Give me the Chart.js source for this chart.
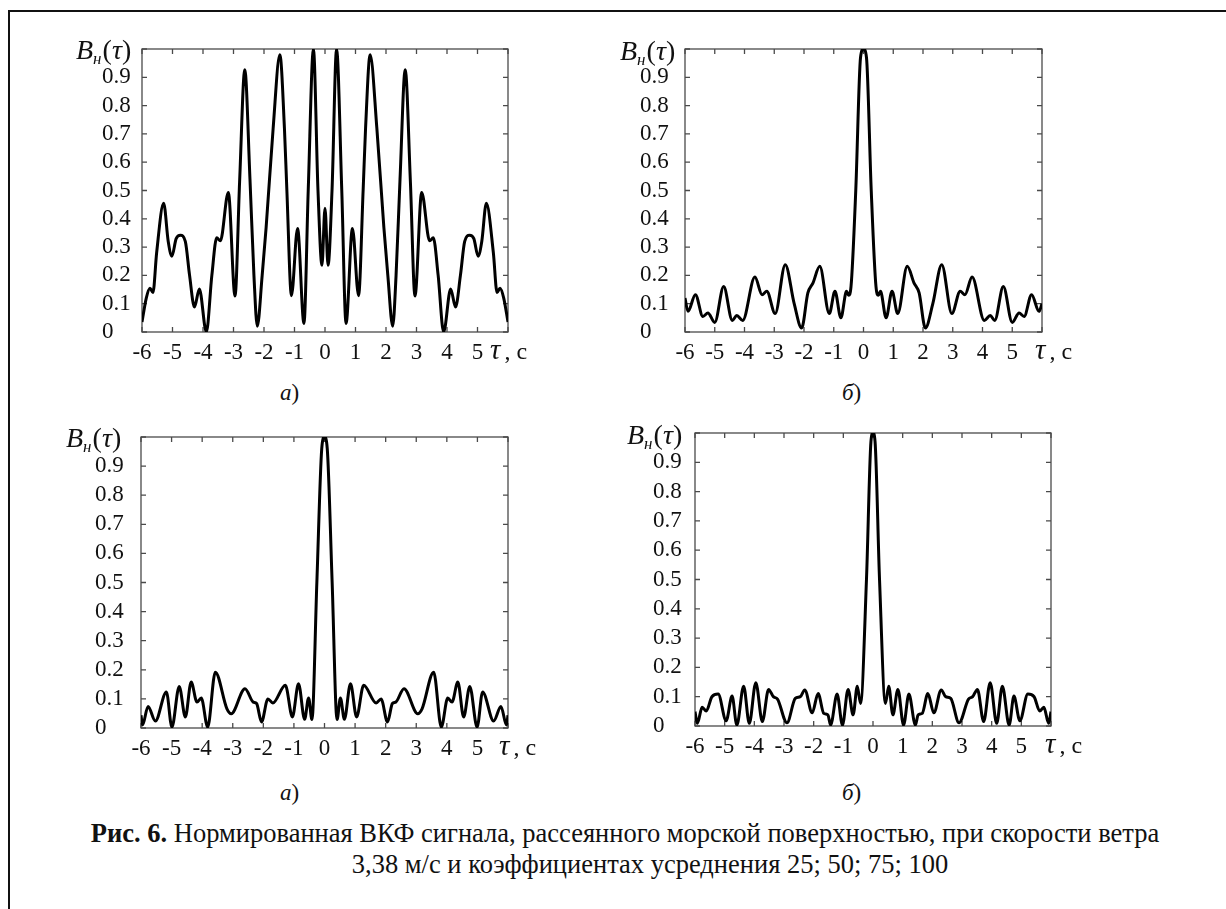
<!DOCTYPE html>
<html lang="ru">
<head>
<meta charset="utf-8">
<title>Рис. 6</title>
<script src="https://cdn.jsdelivr.net/npm/chart.js@4.4.0/dist/chart.umd.min.js"></script>
<style>
  html, body { margin: 0; padding: 0; background: #fff; }
  body { width: 1226px; height: 909px; position: relative; overflow: hidden;
         font-family: "Liberation Serif", "DejaVu Serif", serif; color: #111; }
  .page { position: absolute; left: 8px; top: 10px; width: 1400px; height: 1100px;
          border-left: 2px solid #111; border-top: 2px solid #111; }
  canvas { position: absolute; }
  .lbl { position: absolute; white-space: nowrap; line-height: 1; }
  .bn { font-size: 28px; }
  .bn sub { font-size: 17px; font-style: italic; vertical-align: -5px; line-height: 0; margin-right: 1px; }
  .ax { font-size: 24px; }
  .ax .t { font-size: 29px; font-style: italic; margin-right: 4px; }
  .sub { font-size: 23px; }
  .cap { font-size: 26.5px; text-align: center; }
</style>
</head>
<body>
<div class="page"></div>

<canvas id="chA" width="430" height="340" style="left:102px; top:30px"></canvas>
<canvas id="chB" width="430" height="340" style="left:640px; top:30px"></canvas>
<canvas id="chC" width="437" height="350" style="left:95px; top:415px"></canvas>
<canvas id="chD" width="425" height="350" style="left:653px; top:411px"></canvas>

<!-- подписи осей -->
<div class="lbl bn" style="left:76px; top:36px"><i>B</i><sub>н</sub>(<i>τ</i>)</div>
<div class="lbl bn" style="left:620px; top:37px"><i>B</i><sub>н</sub>(<i>τ</i>)</div>
<div class="lbl bn" style="left:66px; top:424px"><i>B</i><sub>н</sub>(<i>τ</i>)</div>
<div class="lbl bn" style="left:627px; top:421px"><i>B</i><sub>н</sub>(<i>τ</i>)</div>

<div class="lbl ax" style="left:490px; top:335px"><span class="t">τ</span>, с</div>
<div class="lbl ax" style="left:1035px; top:335px"><span class="t">τ</span>, с</div>
<div class="lbl ax" style="left:499px; top:731px"><span class="t">τ</span>, с</div>
<div class="lbl ax" style="left:1045px; top:729px"><span class="t">τ</span>, с</div>

<div class="lbl sub" style="left:280px; top:381px"><i>а</i>)</div>
<div class="lbl sub" style="left:842px; top:381px"><i>б</i>)</div>
<div class="lbl sub" style="left:280px; top:781px"><i>а</i>)</div>
<div class="lbl sub" style="left:842px; top:781px"><i>б</i>)</div>

<div class="lbl cap" style="left:0; width:1250px; top:820px"><b>Рис. 6.</b> Нормированная ВКФ сигнала, рассеянного морской поверхностью, при скорости ветра</div>
<div class="lbl cap" style="left:0; width:1300px; top:851px">3,38 м/с и коэффициентах усреднения 25; 50; 75; 100</div>

<script>
// === Нормированная ВКФ, четыре графика ===

// Отсчёты задержки tau (с) и значения Bн(tau)
const tauA = [-6.00, -5.86, -5.74, -5.64, -5.52, -5.29, -5.14, -5.02, -4.88, -4.74, -4.58, -4.44, -4.28, -4.12,
  -3.89, -3.71, -3.55, -3.43, -3.17, -2.95, -2.80, -2.63, -2.46, -2.33, -2.22, -2.06, -1.93, -1.70, -1.48,
  -1.33, -1.25, -1.10, -0.90, -0.69, -0.55, -0.38, -0.23, -0.10, 0.00, 0.10, 0.23, 0.38, 0.55, 0.69, 0.90,
  1.10, 1.25, 1.33, 1.48, 1.70, 1.93, 2.06, 2.22, 2.33, 2.46, 2.63, 2.80, 2.95, 3.17, 3.43, 3.55, 3.71, 3.89,
  4.12, 4.28, 4.44, 4.58, 4.74, 4.88, 5.02, 5.14, 5.29, 5.52, 5.64, 5.74, 5.86, 6.00];
const valA = [0.035, 0.12, 0.155, 0.14, 0.28, 0.455, 0.32, 0.268, 0.33, 0.342, 0.32, 0.20, 0.088, 0.152,
  0.0, 0.20, 0.333, 0.322, 0.493, 0.127, 0.53, 0.927, 0.54, 0.20, 0.02, 0.20, 0.37, 0.72, 0.98,
  0.72, 0.50, 0.128, 0.366, 0.03, 0.50, 1.0, 0.50, 0.236, 0.437, 0.236, 0.50, 1.0, 0.50, 0.03, 0.366,
  0.128, 0.50, 0.72, 0.98, 0.72, 0.37, 0.20, 0.02, 0.20, 0.54, 0.927, 0.53, 0.127, 0.493, 0.322, 0.333, 0.20, 0.0,
  0.152, 0.088, 0.20, 0.32, 0.342, 0.33, 0.268, 0.32, 0.455, 0.28, 0.14, 0.155, 0.12, 0.035];

const tauB = [-6.00, -5.90, -5.65, -5.40, -5.23, -5.00, -4.70, -4.41, -4.26, -4.06, -3.65, -3.41, -3.25, -2.97,
  -2.63, -2.33, -2.08, -1.87, -1.70, -1.47, -1.15, -0.96, -0.76, -0.57, -0.50, -0.42, -0.26, -0.10, 0.00,
  0.10, 0.26, 0.42, 0.50, 0.57, 0.76, 0.96, 1.15, 1.47, 1.70, 1.87, 2.08, 2.33, 2.63, 2.97, 3.25, 3.41,
  3.65, 4.06, 4.26, 4.41, 4.70, 5.00, 5.23, 5.40, 5.65, 5.90, 6.00];
const valB = [0.12, 0.073, 0.132, 0.055, 0.067, 0.034, 0.161, 0.041, 0.058, 0.041, 0.194, 0.132, 0.144, 0.065,
  0.238, 0.10, 0.014, 0.138, 0.173, 0.232, 0.065, 0.144, 0.05, 0.144, 0.13, 0.16, 0.50, 0.97, 1.0,
  0.97, 0.50, 0.16, 0.13, 0.144, 0.05, 0.144, 0.065, 0.232, 0.173, 0.138, 0.014, 0.10, 0.238, 0.065, 0.144, 0.132,
  0.194, 0.041, 0.058, 0.041, 0.161, 0.034, 0.067, 0.055, 0.132, 0.073, 0.10];

const tauC = [-6.00, -5.95, -5.77, -5.53, -5.17, -4.99, -4.75, -4.55, -4.36, -4.17, -4.03, -3.82, -3.57, -3.19,
  -3.05, -2.60, -2.33, -2.22, -2.06, -1.85, -1.69, -1.28, -1.05, -0.85, -0.65, -0.52, -0.41, -0.25, -0.09, 0.00,
  0.09, 0.25, 0.41, 0.52, 0.65, 0.85, 1.05, 1.28, 1.69, 1.85, 2.06, 2.22, 2.33, 2.60, 3.05, 3.19, 3.57,
  3.82, 4.03, 4.17, 4.36, 4.55, 4.75, 4.99, 5.17, 5.53, 5.77, 5.95, 6.00];
const valC = [0.044, 0.01, 0.074, 0.024, 0.124, 0.003, 0.143, 0.038, 0.158, 0.089, 0.103, 0.003, 0.192, 0.066,
  0.049, 0.135, 0.089, 0.084, 0.021, 0.10, 0.086, 0.147, 0.038, 0.152, 0.03, 0.103, 0.029, 0.50, 0.96, 1.0,
  0.96, 0.50, 0.029, 0.103, 0.03, 0.152, 0.038, 0.147, 0.086, 0.10, 0.021, 0.084, 0.089, 0.135, 0.049, 0.066, 0.192,
  0.003, 0.103, 0.089, 0.158, 0.038, 0.143, 0.003, 0.124, 0.024, 0.074, 0.01, 0.044];

const tauD = [-6.00, -5.92, -5.76, -5.62, -5.43, -5.22, -4.95, -4.75, -4.59, -4.36, -4.17, -3.95, -3.73, -3.52,
  -3.36, -3.22, -2.90, -2.62, -2.45, -2.30, -2.05, -1.85, -1.66, -1.52, -1.43, -1.21, -1.03, -0.84, -0.67,
  -0.53, -0.42, -0.22, -0.07, 0.00, 0.07, 0.22, 0.42, 0.53, 0.67, 0.84, 1.03, 1.21, 1.43, 1.52, 1.66, 1.85,
  2.05, 2.30, 2.45, 2.62, 2.90, 3.22, 3.36, 3.52, 3.73, 3.95, 4.17, 4.36, 4.59, 4.75, 4.95, 5.22, 5.43,
  5.62, 5.76, 5.92, 6.00];
const valD = [0.049, 0.009, 0.064, 0.051, 0.10, 0.109, 0.018, 0.102, 0.003, 0.136, 0.009, 0.148, 0.015, 0.125,
  0.10, 0.092, 0.011, 0.094, 0.10, 0.123, 0.045, 0.111, 0.043, 0.038, 0.003, 0.109, 0.003, 0.125, 0.038,
  0.136, 0.077, 0.50, 0.97, 1.0, 0.97, 0.50, 0.077, 0.136, 0.038, 0.125, 0.003, 0.109, 0.003, 0.038, 0.043, 0.111,
  0.045, 0.123, 0.10, 0.094, 0.011, 0.092, 0.10, 0.125, 0.015, 0.148, 0.009, 0.136, 0.003, 0.102, 0.018, 0.109, 0.10,
  0.051, 0.064, 0.009, 0.049];

// Деления осей
const xTicks = [-6, -5, -4, -3, -2, -1, 0, 1, 2, 3, 4, 5, 6];
const yTicks = [0, 0.1, 0.2, 0.3, 0.4, 0.5, 0.6, 0.7, 0.8, 0.9, 1];

const FONT = { family: "'Liberation Serif', 'DejaVu Serif', serif", size: 23 };

// Рамка графика и внутренние засечки со всех четырёх сторон
const framePlugin = {
  id: 'frame',
  beforeDatasetsDraw(chart) {
    const { ctx, chartArea: a, scales } = chart;
    const tl = 5;
    ctx.save();
    ctx.strokeStyle = '#4a4a4a';
    ctx.lineWidth = 1.3;
    ctx.strokeRect(a.left, a.top, a.right - a.left, a.bottom - a.top);
    ctx.beginPath();
    xTicks.forEach(v => {
      const px = scales.x.getPixelForValue(v);
      ctx.moveTo(px, a.bottom); ctx.lineTo(px, a.bottom - tl);
      ctx.moveTo(px, a.top); ctx.lineTo(px, a.top + tl);
    });
    yTicks.forEach(v => {
      const py = scales.y.getPixelForValue(v);
      ctx.moveTo(a.left, py); ctx.lineTo(a.left + tl, py);
      ctx.moveTo(a.right, py); ctx.lineTo(a.right - tl, py);
    });
    ctx.stroke();
    ctx.restore();
  }
};

// pad: отступы холста, yw: ширина оси Y, xh: высота оси X
function drawCorr(id, taus, vals, pad, yw, xh) {
  const ctx = document.getElementById(id);
  return new Chart(ctx, {
    type: 'line',
    data: {
      datasets: [{
        data: taus.map((t, i) => ({ x: t, y: vals[i] })),
        borderColor: '#000',
        borderWidth: 3,
        pointRadius: 0,
        cubicInterpolationMode: 'monotone',
        fill: false
      }]
    },
    options: {
      responsive: false,
      animation: false,
      devicePixelRatio: 1,
      layout: { padding: pad },
      plugins: { legend: { display: false }, tooltip: { enabled: false } },
      scales: {
        x: {
          type: 'linear',
          min: -6, max: 6,
          afterBuildTicks: s => { s.ticks = xTicks.map(v => ({ value: v })); },
          afterFit: s => { s.height = xh; },
          grid: { display: false, drawTicks: false },
          border: { display: false },
          ticks: {
            color: '#111', font: FONT, padding: 7, maxRotation: 0, autoSkip: false,
            callback: v => (v === 6 ? '' : String(v))
          }
        },
        y: {
          min: 0, max: 1,
          afterBuildTicks: s => { s.ticks = yTicks.map(v => ({ value: v })); },
          afterFit: s => { s.width = yw; },
          grid: { display: false, drawTicks: false },
          border: { display: false },
          ticks: {
            color: '#111', font: FONT, padding: 0, crossAlign: 'far', autoSkip: false,
            callback: v => (v >= 1 ? '' : String(Math.round(v * 10) / 10))
          }
        }
      }
    },
    plugins: [framePlugin]
  });
}

drawCorr('chA', tauA, valA, { left: 0, top: 19, right: 24, bottom: 0 }, 40, 38);
drawCorr('chB', tauB, valB, { left: 0, top: 19, right: 28, bottom: 0 }, 45, 38);
drawCorr('chC', tauC, valC, { left: 0, top: 22, right: 24, bottom: 0 }, 46, 37);
drawCorr('chD', tauD, valD, { left: 0, top: 22, right: 27, bottom: 0 }, 42, 35);
</script>
</body>
</html>
